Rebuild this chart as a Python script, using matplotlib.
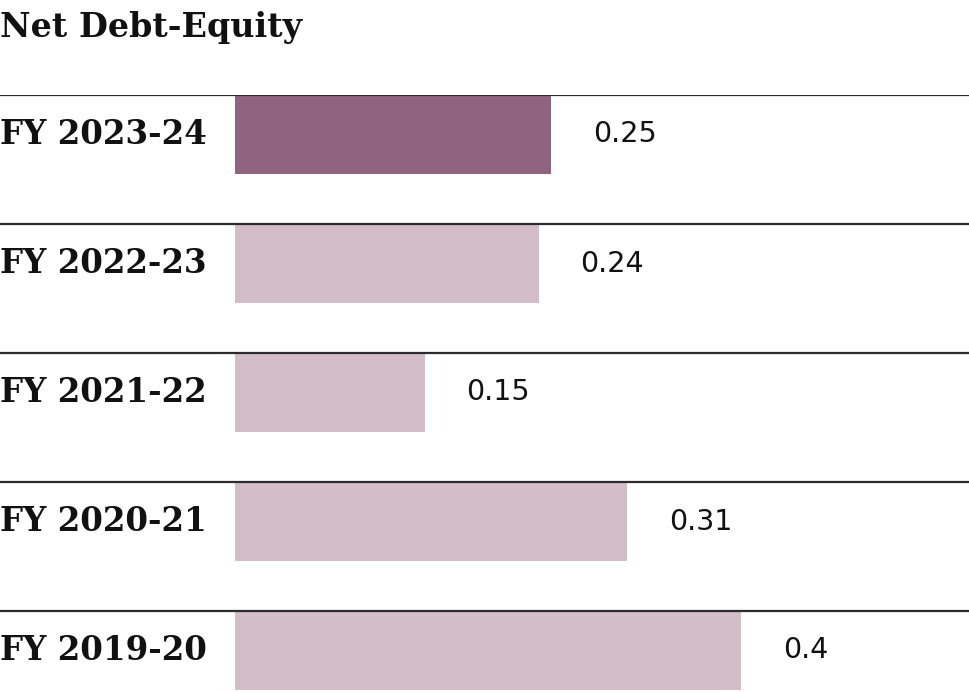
import matplotlib
matplotlib.use("Agg")
import matplotlib.pyplot as plt

title = "Net Debt-Equity"
categories = ["FY 2023-24", "FY 2022-23", "FY 2021-22", "FY 2020-21", "FY 2019-20"]
values = [0.25, 0.24, 0.15, 0.31, 0.4]
value_labels = ["0.25", "0.24", "0.15", "0.31", "0.4"]
highlight = [True, False, False, False, False]

W, H = 969, 692
fig = plt.figure(figsize=(W / 100, H / 100), dpi=100)
fig.patch.set_facecolor("white")

px_per_unit = 1265.0
x0_px = 235.0
top_px = 95.0
row_px = 129.0
bar_px = 79.0

n = len(categories)
ymax = (n - 1) + (H - (top_px + (n - 1) * row_px)) / row_px
ax = fig.add_axes([0, 0, 1, 1 - top_px / H])
ax.set_xlim(-x0_px / px_per_unit, (W - x0_px) / px_per_unit)
ax.set_ylim(ymax, 0)
ax.axis("off")

dark = "#8f6480"
light = "#d3bdc6"
bar_h = bar_px / row_px
for i, (cat, v, lab, hl) in enumerate(zip(categories, values, value_labels, highlight)):
    ax.axhline(i, color="#2b2b2b", lw=1.6, zorder=3)
    ax.barh(i, v, height=bar_h, align="edge", color=dark if hl else light, zorder=2)
    ax.text(0, i + bar_h / 2, cat, transform=ax.get_yaxis_transform(),
            ha="left", va="center", fontsize=23.5, fontweight="bold",
            family="DejaVu Serif", color="#111111")
    ax.annotate(lab, (v, i + bar_h / 2), xytext=(30, 0), textcoords="offset points",
                ha="left", va="center", fontsize=20.5, family="DejaVu Sans", color="#111111")

fig.text(0.0, 1 - 27 / H, title, ha="left", va="center", fontsize=24,
         fontweight="bold", family="DejaVu Serif", color="#111111")

fig.savefig("out.png", dpi=100, facecolor="white")
